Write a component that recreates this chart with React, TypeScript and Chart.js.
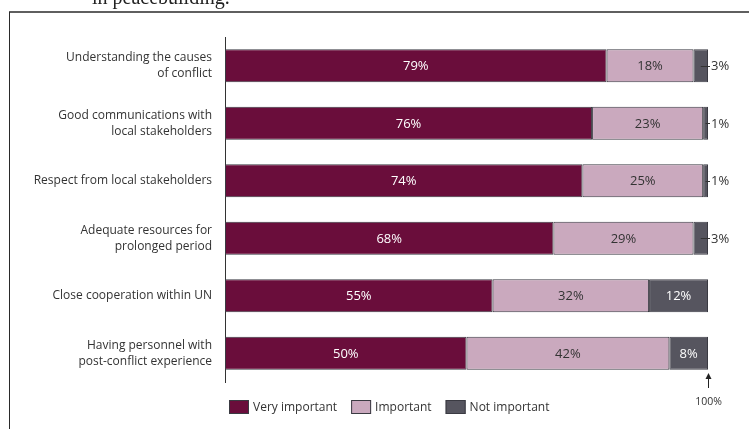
import React, { useEffect, useRef } from "react";
import { Chart, registerables } from "chart.js";

Chart.register(...registerables);

const categories: string[][] = [
  ["Understanding the causes", "of conflict"],
  ["Good communications with", "local stakeholders"],
  ["Respect from local stakeholders"],
  ["Adequate resources for", "prolonged period"],
  ["Close cooperation within UN"],
  ["Having personnel with", "post-conflict experience"],
];
const seriesNames = ["Very important", "Important", "Not important"];
const veryImportant = [79, 76, 74, 68, 55.4, 50];
const important = [18, 23, 25, 29, 32.4, 42];
const notImportant = [3, 1, 1, 3, 12.2, 8];
const seriesColors = ["#6a0d3b", "#caa9be", "#56555f"];
const labelColors = ["#ffffff", "#333333", "#ffffff"];
const axisMax = 100;
const totalLabel = "100%";
const headingText = "in peacebuilding.";

const SANS = "'Open Sans', 'Liberation Sans', sans-serif";

const decorPlugin = {
  id: "decor",
  beforeDraw(chart: any) {
    const ctx = chart.ctx;
    ctx.save();
    ctx.fillStyle = "#ffffff";
    ctx.fillRect(0, 0, chart.width, chart.height);
    ctx.strokeStyle = "#2a2a2a";
    ctx.lineWidth = 1;
    ctx.beginPath();
    ctx.moveTo(9.5, chart.height + 5);
    ctx.lineTo(9.5, 12);
    ctx.stroke();
    ctx.lineWidth = 1.6;
    ctx.beginPath();
    ctx.moveTo(9, 12);
    ctx.lineTo(chart.width + 5, 12);
    ctx.stroke();
    ctx.fillStyle = "#222222";
    ctx.font = "20px 'Liberation Serif', serif";
    ctx.textAlign = "left";
    ctx.textBaseline = "alphabetic";
    ctx.fillText(headingText, 92, 4);
    ctx.restore();
  },
  afterDatasetsDraw(chart: any) {
    const ctx = chart.ctx;
    const area = chart.chartArea;
    const xScale = chart.scales.x;
    ctx.save();
    chart.data.datasets.forEach((ds: any, i: number) => {
      const meta = chart.getDatasetMeta(i);
      meta.data.forEach((bar: any, j: number) => {
        const v = ds.data[j];
        const p = bar.getProps(["x", "y", "base"], true);
        const cx = (p.x + p.base) / 2;
        const txt = Math.round(v) + "%";
        ctx.font = `13px ${SANS}`;
        if (v >= 5) {
          ctx.fillStyle = labelColors[i];
          ctx.textAlign = "center";
          ctx.textBaseline = "middle";
          ctx.fillText(txt, cx, p.y + 1);
        } else {
          ctx.strokeStyle = "#333333";
          ctx.lineWidth = 1;
          ctx.beginPath();
          ctx.moveTo(cx, Math.round(p.y) + 0.5);
          ctx.lineTo(p.x + 2, Math.round(p.y) + 0.5);
          ctx.stroke();
          ctx.fillStyle = "#333333";
          ctx.textAlign = "left";
          ctx.textBaseline = "middle";
          ctx.fillText(txt, p.x + 3, p.y + 1);
        }
      });
    });

    // 100% arrow
    const xe = Math.round(xScale.getPixelForValue(axisMax)) + 0.5;
    const b = area.bottom;
    ctx.strokeStyle = "#222222";
    ctx.fillStyle = "#222222";
    ctx.lineWidth = 1;
    ctx.beginPath();
    ctx.moveTo(xe, b + 6);
    ctx.lineTo(xe, b - 5);
    ctx.stroke();
    ctx.beginPath();
    ctx.moveTo(xe, b - 9);
    ctx.lineTo(xe - 3, b - 3);
    ctx.lineTo(xe + 3, b - 3);
    ctx.closePath();
    ctx.fill();
    ctx.font = `10.5px ${SANS}`;
    ctx.fillStyle = "#333333";
    ctx.textAlign = "center";
    ctx.textBaseline = "middle";
    ctx.fillText(totalLabel, xe, b + 20);

    // legend
    let lx = area.left + 4;
    const ly = b + 18;
    ctx.font = `12px ${SANS}`;
    chart.data.datasets.forEach((ds: any, i: number) => {
      ctx.fillStyle = seriesColors[i];
      ctx.fillRect(lx, ly, 20, 14);
      ctx.strokeStyle = "#3a3a42";
      ctx.lineWidth = 1;
      ctx.strokeRect(lx + 0.5, ly + 0.5, 19, 13);
      ctx.fillStyle = "#333333";
      ctx.textAlign = "left";
      ctx.textBaseline = "middle";
      ctx.fillText(ds.label, lx + 24, ly + 7.5);
      lx += 24 + ctx.measureText(ds.label).width + 14;
    });
    ctx.restore();
  },
};

export default function App() {
  const ref = useRef<HTMLCanvasElement | null>(null);
  useEffect(() => {
    if (!ref.current) return;
    const seriesData = [veryImportant, important, notImportant];
    const chart = new Chart(ref.current, {
      type: "bar",
      data: {
        labels: categories,
        datasets: seriesNames.map((name, i) => ({
          label: name,
          data: seriesData[i],
          backgroundColor: seriesColors[i],
          borderColor: "#3a3a42",
          borderWidth: 1,
          borderSkipped: false,
          barPercentage: 0.57,
          categoryPercentage: 1,
        })),
      },
      options: {
        indexAxis: "y",
        responsive: false,
        animation: false,
        devicePixelRatio: 1,
        layout: { padding: { left: 0, right: 41, top: 37, bottom: 47 } },
        plugins: {
          legend: { display: false },
          tooltip: { enabled: false },
        },
        scales: {
          x: { display: false, stacked: true, min: 0, max: axisMax },
          y: {
            stacked: true,
            grid: { display: false, drawTicks: false },
            border: { display: true, color: "#333333", width: 1 },
            ticks: {
              color: "#333333",
              padding: 13,
              font: { family: SANS, size: 12, lineHeight: 16 / 12 },
            },
            afterFit: (scale: any) => {
              scale.width = 225;
            },
          },
        },
      } as any,
      plugins: [decorPlugin],
    });
    return () => chart.destroy();
  }, []);
  return (
    <div style={{ position: "absolute", left: 0, top: 0, width: 749, height: 429, overflow: "hidden" }}>
      <canvas ref={ref} width={749} height={429} style={{ display: "block", width: 749, height: 429 }} />
    </div>
  );
}
